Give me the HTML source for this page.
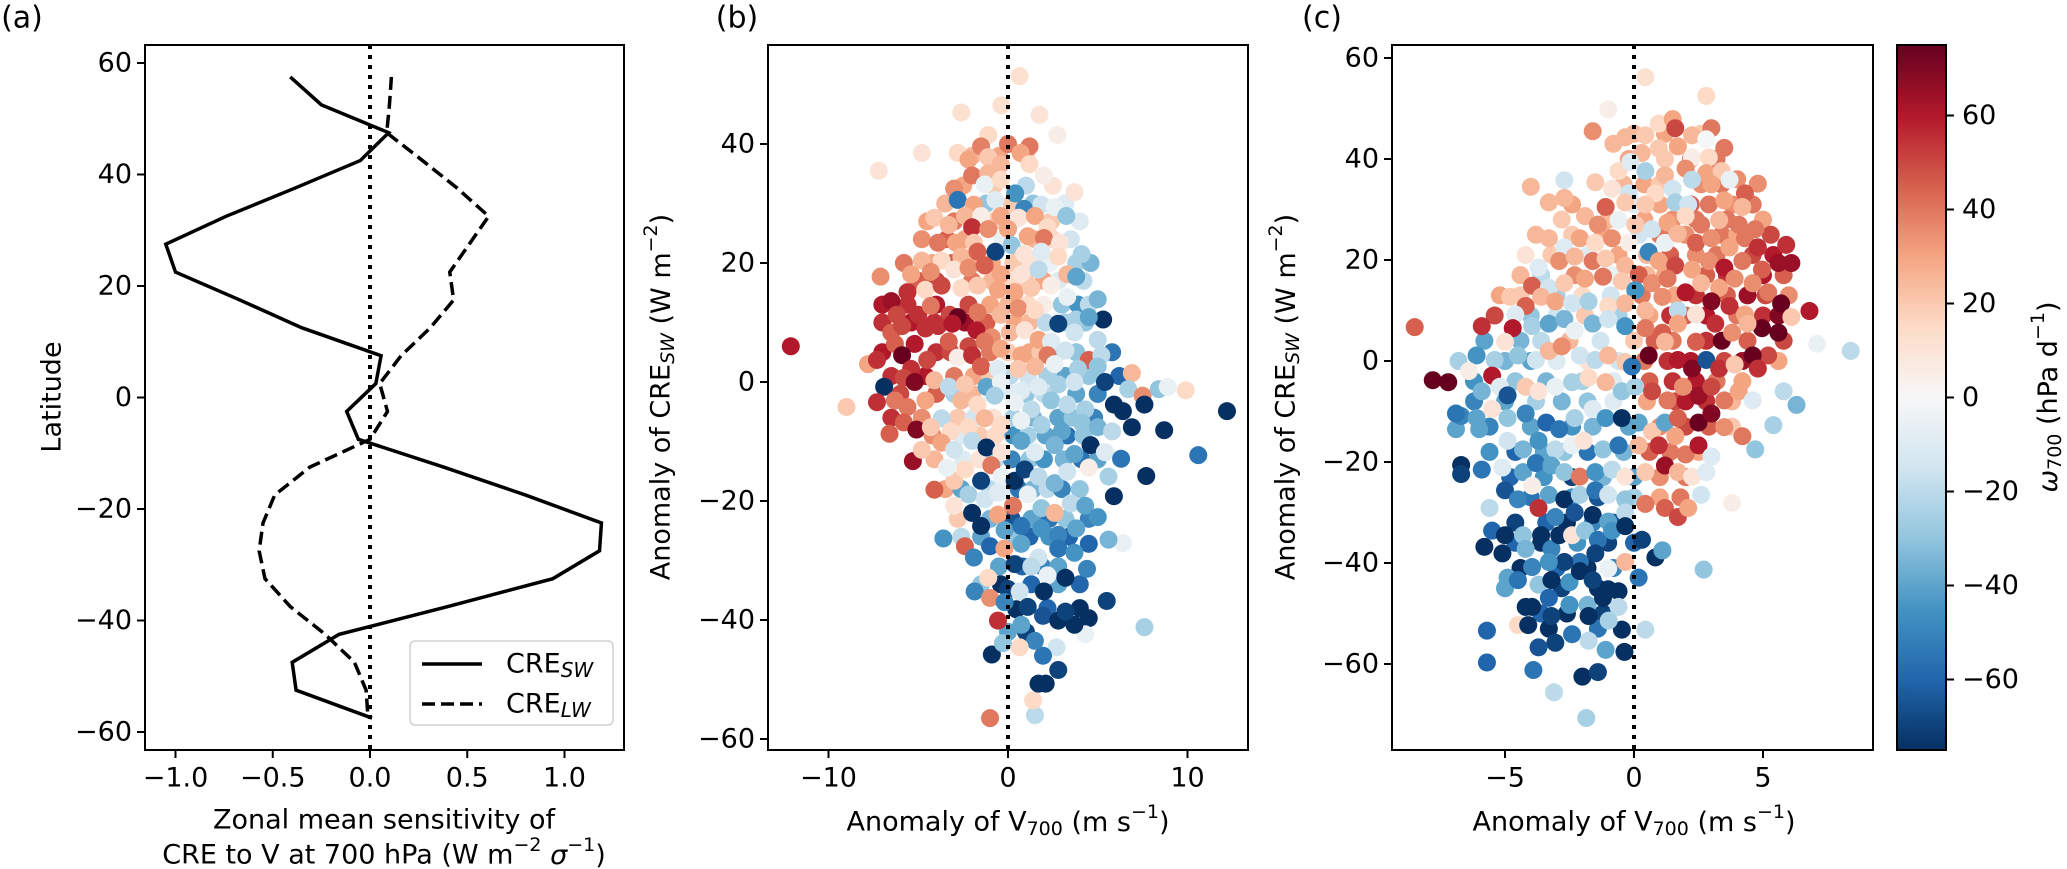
<!DOCTYPE html>
<html><head><meta charset="utf-8">
<style>
html,body{margin:0;padding:0;background:#fff;}
svg{display:block;font-family:"DejaVu Sans","Liberation Sans",sans-serif;}
</style></head>
<body>
<svg id="fig" width="2067" height="869" viewBox="0 0 2067 869" xmlns="http://www.w3.org/2000/svg">
<defs>
<clipPath id="clipA"><rect x="145" y="45" width="479" height="705"/></clipPath>
<clipPath id="clipB"><rect x="768" y="45" width="480" height="705"/></clipPath>
<clipPath id="clipC"><rect x="1392" y="45" width="481" height="705"/></clipPath>
<linearGradient id="cmapGrad" x1="0" y1="1" x2="0" y2="0">
<stop offset="0" stop-color="#053061"/><stop offset="0.1" stop-color="#2166ac"/><stop offset="0.2" stop-color="#4393c3"/><stop offset="0.3" stop-color="#92c5de"/><stop offset="0.4" stop-color="#d1e5f0"/><stop offset="0.5" stop-color="#f7f7f7"/><stop offset="0.6" stop-color="#fddbc7"/><stop offset="0.7" stop-color="#f4a582"/><stop offset="0.8" stop-color="#d6604d"/><stop offset="0.9" stop-color="#b2182b"/><stop offset="1" stop-color="#67001f"/>
</linearGradient>
</defs>
</svg>
<script>
// ---------- Panel (a) data ----------
const latA = [57.5,52.5,47.5,42.5,37.5,32.5,27.5,22.5,17.5,12.5,7.5,2.5,-2.5,-7.5,-12.5,-17.5,-22.5,-27.5,-32.5,-37.5,-42.5,-47.5,-52.5,-57.5];
const creSW = [-0.41,-0.25,0.096,-0.05,-0.39,-0.74,-1.05,-1.0,-0.67,-0.35,0.057,0.03,-0.12,-0.06,0.38,0.80,1.19,1.18,0.94,0.40,-0.16,-0.40,-0.38,0.01];
const creLW = [0.11,0.10,0.086,0.27,0.45,0.61,0.51,0.41,0.43,0.31,0.16,0.05,0.09,0.0,-0.31,-0.49,-0.55,-0.57,-0.54,-0.41,-0.23,-0.08,-0.02,-0.01];
const aXTicks = [-1.0,-0.5,0.0,0.5,1.0];
const aXTickLabels = ["−1.0","−0.5","0.0","0.5","1.0"];
const aYTicks = [-60,-40,-20,0,20,40,60];
const bXTicks = [-10,0,10];
const bYTicks = [-60,-40,-20,0,20,40];
const cXTicks = [-5,0,5];
const cYTicks = [-60,-40,-20,0,20,40,60];
const cbTicks = [-60,-40,-20,0,20,40,60];

// ---------- Panel (b) points [V700 anomaly, CRE_SW anomaly, omega700] ----------
const bPoints = [
[-12.1,6.0,60],[0.65,51.4,12],[-0.37,46.5,12],[-2.6,45.3,12],[1.76,44.9,10],[2.75,41.5,5],[-4.8,38.5,10],[-7.2,35.5,10],[3.7,31.9,10],[-7.1,17.7,35],[-6.5,13.6,65],[-9.0,-4.2,20],[12.2,-4.9,-75],[9.9,-1.4,15],[10.6,-12.3,-55],[8.7,-8.1,-75],[7.7,-15.8,-75],[7.6,-41.2,-25],[5.9,-19.2,-75],[6.4,-27.1,-5],
[-1.0,-56.5,40],[1.5,-56,-20],[1.4,-53.5,15],[1.7,-50.7,-75],[2.1,-50.7,-75],[2.8,-48.4,-70],[2.7,-44.6,-15],[-0.9,-45.8,-75],[1.95,-46,-55],[1.5,-43.5,-50],[0.65,-44.6,15],[-0.28,-43.9,-30],[5.5,-36.8,-70],[4.5,-39.7,-75],[4.3,-42.4,-5],[3.2,-32.9,-75],[4.4,-31.4,-50],[-1.86,-35.2,-50],[-1.0,-36.3,35],[-3.6,-26.3,-45],[-2.4,-27.6,45],[-1.9,-29.5,-50],
[-1.1,41.5,15],[0,40,40],[1.2,39.6,40],[-1.5,39.6,38],[-2.8,38.5,15],[-2.2,37.4,30],[-1.1,37.8,20],[-0.4,36.6,25],[0.7,38.5,30],[1.2,36.6,15],[2.0,34.7,5],[-2.0,34.7,40],[-1.1,35.1,25],[-3.0,32.5,35],[-1.3,33.2,-5],[-0.4,34,15],[0.4,31.7,-45],[-2.8,30.6,-55],[-1.9,29.8,30],[-0.7,30.6,-10],[0.9,29.1,-50],[1.86,29.8,-15],[2.6,29.4,-5],
[-4.1,27.6,20],[-2.4,27.9,25],[-1.5,27.9,5],[-0.4,27.9,30],[0.6,27.6,10],[1.5,27.9,30],[3.25,27.9,-30],[-3.3,26.4,25],[-2.0,26.0,55],[-1.1,25.7,35],[0,25.7,30],[2.2,26,15],[-3.9,23.4,40],[-2.9,23.4,30],[-1.9,23.4,20],[-0.7,21.9,-70],[0.2,23,-30],[1.1,24.5,30],[2.0,24.2,40],[2.9,23.4,10],[4.1,21.5,-25],
[-4.8,20.4,25],[-3.7,20.4,15],[-2.6,21.1,25],[-1.7,21.9,45],[0.9,21.5,10],[1.86,21.9,-10],[2.8,21.1,15],[-5.4,18.1,30],[-4.3,18.5,35],[-3.0,18.9,10],[-2.2,19.2,35],[-1.3,19.6,45],[-0.4,18.1,30],[0.74,18.1,10],[1.7,18.9,-20],[3.3,18.1,25],[3.8,17.7,-40],
[-5.6,15.1,55],[-4.6,15.5,15],[-3.7,16.2,50],[-2.6,15.8,15],[-1.7,16.2,20],[-0.56,15.5,30],[0.37,15.1,30],[1.3,15.8,20],[2.4,16.2,5],[3.3,14.3,-5],[5.0,13.9,-35],
[-6.2,11.3,50],[-5.0,11.3,55],[-4.3,12.8,40],[-3.25,11.3,50],[-2.8,10.9,75],[-1.7,11.7,40],[-0.4,11.3,25],[0.56,12.4,35],[1.5,12.1,15],[2.8,9.8,-70],[3.8,10.5,-25],[5.3,10.5,-75],[4.5,10.9,-40],
[-6.5,8.3,45],[-5.9,9.4,50],[-4.6,9.0,55],[-3.9,9.4,55],[-3.1,9.8,60],[-1.76,8.7,60],[-0.9,7.5,35],[0.1,8.3,25],[0.93,8.7,10],[1.7,7.1,30],[2.4,6.8,-10],[3.7,8.3,-15],[5.0,7.1,-20],
[-6.3,6.4,45],[-5.2,6.4,60],[-3.3,6.8,45],[-2.2,6.0,50],[-1.3,6.8,40],[-0.4,5.6,30],[0.74,4.5,30],[2.2,4.5,40],[3.2,5.3,-15],[4.5,3.7,45],[5.2,4.5,-20],
[-7.8,3.0,30],[-7.3,3.7,55],[-5.9,4.5,75],[-5.4,2.2,55],[-4.5,3.7,50],[-2.8,4.1,5],[-2.0,4.5,55],[-1.5,2.6,45],[-0.56,2.2,-10],[0.56,2.2,20],[1.5,2.6,25],[2.6,3.0,-5],[3.9,2.2,-25],[5.0,2.6,-30],[6.9,1.5,25],
[-6.9,-0.8,-75],[-5.8,0.7,50],[-5.2,0,70],[-4.1,0.3,25],[-3.3,-0.8,-20],[-2.4,-0.4,20],[-1.2,-0.8,-40],[-0.4,0,-5],[0.74,-1.5,-10],[1.7,-0.8,-10],[2.8,-0.4,-25],[3.7,0,-15],[5.4,0,-70],[6.7,-1.2,-25],[7.5,-2.3,35],[8.4,-1.2,-30],[8.9,-0.8,-5],
[-7.3,-3.4,55],[-6.3,-3.1,40],[-5.6,-4.2,40],[-4.6,-3.1,30],[-3.7,-6.1,-20],[-2.6,-3.1,25],[-1.7,-3.8,15],[-0.74,-2.3,-25],[0.37,-3.4,-5],[1.3,-4.6,-20],[2.4,-3.1,-30],[3.3,-3.8,-20],[4.3,-4.6,-25],[5.9,-3.8,-75],[6.4,-4.9,-75],[7.6,-3.8,-75],
[-5.8,-6.8,45],[-5.1,-8.0,70],[-4.3,-7.6,20],[-3.2,-8.3,15],[-2.2,-7.6,15],[-1.3,-6.1,25],[-0.37,-7.2,15],[0.74,-6.5,-5],[1.86,-7.2,-25],[3.0,-8.3,-40],[4.1,-6.8,-30],[5.0,-7.6,-35],[5.8,-8.3,-20],[6.9,-7.6,-75],
[-6.6,-8.7,45],[-5.3,-13.3,65],[-4.8,-11.4,20],[-3.7,-10.2,30],[-3.0,-11.4,-15],[-2.0,-9.9,-20],[-1.2,-11.0,-75],[-0.37,-11.8,10],[0.74,-9.9,-40],[1.5,-11.8,-10],[2.6,-10.6,-35],[3.7,-12.1,-40],[4.6,-10.6,-75],[5.4,-11.8,-10],[6.3,-12.9,-55],
[-4.1,-18.1,45],[-3.0,-16.6,20],[-3.4,-14.4,-5],[-2.4,-14.7,15],[-1.5,-16.6,-70],[-0.93,-14,40],[-0.37,-15.9,-5],[0.37,-16.6,-75],[0.93,-14.7,-70],[1.7,-15.9,-20],[2.6,-17,-35],[3.3,-15.1,-15],[4.5,-14.4,5],[5.6,-15.9,-25],
[-2.2,-18.9,-25],[-3.0,-20.8,10],[-2.0,-22,-75],[-1.3,-19.7,-15],[-0.56,-18.6,-10],[0.28,-20.8,40],[1.1,-18.9,-5],[1.86,-21.2,-30],[2.6,-22,25],[3.5,-20.4,-20],[4.3,-20.8,-40],[5.0,-22.7,-45],
[-1.5,-24.2,-75],[-0.56,-22.3,30],[-0.19,-24.9,-40],[0.74,-24.2,-55],[1.86,-24.6,-45],[2.8,-25.7,-50],[3.8,-24.6,-40],[4.5,-27.2,-60],[5.6,-26.5,-35],
[-1.0,-27.6,-60],[-0.2,-28,30],[0.74,-27.2,-40],[1.7,-29.5,-15],[2.8,-28,-55],[3.7,-28.7,-45],[0.37,-30.6,-70],[1.3,-31,-20],[2.2,-32.5,-5],[-1.1,-32.9,15],[0,-34.8,-70],[0.65,-35.2,-15],[2.0,-35.2,-75],
[-0.56,-40.1,55],[0.46,-38.2,-75],[1.1,-37.8,-70],[0.74,-40.8,-40],[1.95,-39.3,-65],[2.8,-40.1,-75],[3.7,-40.8,-75],[3.2,-38.6,-70],[-0.19,-37,-50]
];
// extra densely packed points for panel (b), by row: CRE value, V700 values, omega values
const bRowY = [38,33,30,27,24,20,17,13,10,5,1,-2,-6,-9,-13,-18,-23,-26,-31,-34,-38,-42];
const bRowX = [
[-2,-0.5,1.0],[-2.5,-0.8,1.0,2.5],[-3.5,-1.2,0.2,1.4,3.2],[-4.5,-3.0,-0.8,0.2,2.4,4.0],[-4.8,-3.4,-2.4,-0.3,1.5,2.5,3.5],
[-5.8,-4.2,-3.1,-2.1,-0.9,0.3,1.3,2.3,3.8,4.6],[-5.0,-4.0,-2.0,-0.9,0,1.0,2.0,2.8,4.2],[-7,-5.6,-4.0,-2.2,-1.0,0,1.1,2.0,3.0,3.9,4.5],
[-7.0,-5.4,-4.1,-2.4,-1.2,0.4,1.2,2.1,3.2,4.3],[-7.0,-4.0,-3.2,-1.0,0,1.2,1.8,2.8,3.8,5.8],[-6.5,-4.6,-3.0,-1.9,-1,0.1,1.1,2.2,3.2,4.5,6.2],
[-6.0,-4.0,-3.0,-2.0,-0.9,0.2,1.0,2.0,3.8,5.0],[-6.5,-4.8,-2.8,-1.9,-0.8,0.3,1.4,2.8,3.6,4.8],[-4.2,-2.6,-1.6,-0.7,0.3,1.1,2.1,3.3,4.2],
[-4.1,-2.5,-1.6,-0.7,0.2,1.2,2.0,3.1,4.1,5.0],[-3.5,-2.6,-1.0,-0.1,0.6,1.4,2.2,3.0,4.0],[-2.8,-1.0,0.2,1.3,2.3,3.2,4.5],
[-2.6,-1.5,0.3,1.2,2.3,3.4],[-0.5,0.8,1.9,2.8],[-1.5,-0.4,1.3,2.8,4.0],[2.2,4.0],[0,1.0]];
const bRowW = [
[25,30,20],[30,20,-20,10],[25,-30,20,-30,-10],[30,40,20,-20,20,-10],[35,45,30,-5,25,15,-15],
[40,30,45,25,30,20,10,-5,-25,-35],[45,50,40,25,15,20,30,-10,-20],[60,55,60,50,30,25,15,5,-30,-45,-20],
[55,60,55,65,45,30,25,-20,-25,-30],[60,55,50,40,20,30,20,-20,-30,-55],[55,60,40,30,20,-20,-15,-25,-40,-30,-60],
[50,45,-25,25,-5,-10,-30,-20,-40,-50],[55,35,20,-15,10,-25,-35,-40,-30,-50],[35,-10,20,15,-45,-25,-40,-55,-30],
[25,-10,10,-20,-50,-30,-45,-35,-55,-40],[30,-40,-20,-10,-55,-35,-20,-50,-30],[20,-35,-65,-40,-55,-30,-50],
[-20,-40,-30,-60,-45,-60],[-40,-60,-50,-40],[-30,-75,-60,-40,-60],[-60,-75],[-40,-70]];

// ---------- Panel (c) points [V700 anomaly, CRE_SW anomaly, omega700] ----------
const cPoints = [
[-8.5,6.7,45],[-7.8,-3.8,75],[-7.2,-4.2,75],[-5.9,6.9,55],[8.4,2.0,-20],[7.1,3.4,-5],[6.8,9.9,60],[0.44,56.2,12],[2.8,52.5,15],[-1.0,49.8,5],[-1.6,45.5,35],[-4.0,34.5,25],[-2.7,35.8,-15],[-3.3,31.4,25],[-2.7,32.3,25],[4.8,35.1,35],[4.0,36,35],[3.5,42.2,40],
[-3.1,-65.6,-20],[-1.85,-70.7,-25],[-5.7,-53.4,-60],[-5.7,-59.7,-60],[-3.9,-61.2,-55],[-2.0,-62.5,-75],[-1.4,-61.6,-70],[-0.37,-57.6,-75],[-0.47,-53.2,-75],[0.44,-53.2,-20],[2.7,-41.3,-30],[5.4,-12.7,-25],[4.7,-17.5,-30],[6.3,-8.7,-35],[5.8,-6.0,-20],[3.8,-28.1,5],
[-6.7,-20.6,-75],[-6.7,-22.4,-70],[-6.9,-13.5,-40],[-6.0,-13.5,-40],[-6.7,-10.9,-50],[-6.1,1.1,-45],[-5.6,-29.1,-20],[-5.9,-21.5,-55],[-6.4,-2.0,5],
[-0.34,44.3,25],[0.44,44.7,20],[0.96,47,15],[1.5,47.9,30],[1.6,46.1,50],[2.25,44.7,25],[3.0,46.1,40],[2.8,43.9,-1],[-0.8,43,25],[0.3,41.2,25],[0.96,42.1,20],[1.7,42.5,30],[2.25,40.3,5],[2.9,40.3,15],
[-0.6,37.6,15],[-0.14,39.4,-10],[0.44,37.6,-25],[1.2,36.8,25],[2.0,38.1,35],[2.8,37.2,30],[3.4,37.6,20],[3.7,35.9,-5],[-1.5,35.4,20],[-0.85,34.1,10],[-0.2,33.2,-15],[0.83,33.2,15],[1.5,34.1,-15],[2.25,35.9,-20],[3.0,35,30],[4.3,33.2,45],[-1.1,30.5,45],[-0.34,31.4,20],[0.44,31,20],[1.6,31.4,-25],[2.1,31,-15],[2.9,31,40],[3.5,31.8,30],[4.2,30.5,25],
[-1.9,28.7,25],[-1.4,27,35],[-0.6,27.9,-5],[0.05,27,20],[0.7,26.1,-15],[1.3,27.4,30],[2.0,28.7,15],[2.6,27,40],[3.3,27.9,25],[4.06,27,40],[4.7,26.1,40],
[-3.3,24.3,25],[-2.7,22.5,-10],[-2.1,24.3,30],[-1.5,23.4,15],[-0.85,24.3,35],[-0.2,23.4,5],[0.57,21.6,-50],[1.2,23.4,-5],[1.7,25.2,25],[2.4,23.4,45],[3.0,24.3,35],[3.7,22.5,30],[4.3,24.3,40],[4.8,22.5,55],[5.9,23,55],[5.6,19.4,65],[6.1,19.4,65],
[-3.7,18.5,-10],[-2.9,19.8,35],[-2.3,20.7,25],[-1.6,19.8,40],[-1.1,20.3,20],[-0.34,18.9,25],[0.18,17.1,45],[0.96,19.8,30],[1.6,18.9,50],[2.25,18.1,30],[2.9,19.8,35],[3.5,18.5,60],[4.2,19.8,40],[4.96,18.1,45],
[-3.95,14.9,45],[-3.3,14.5,-15],[-2.7,15.4,20],[-1.9,16.3,30],[-1.2,16.7,40],[-0.47,15.8,20],[0.05,14,-45],[0.7,15.4,35],[1.3,16.3,40],[2.0,13.6,60],[2.6,15.4,25],[3.3,14.5,30],[3.9,16.3,35],[4.6,15.4,35],[5.2,13.6,40],[5.7,11.4,75],
[-4.8,12.7,20],[-4.2,10.9,45],[-3.6,12.7,25],[-3.05,11.8,30],[-2.4,11.4,-15],[-1.76,11.8,-25],[-1.0,10.9,15],[-0.34,11.4,25],[0.44,10,25],[1.1,12.7,35],[1.7,10,-20],[2.4,9.2,10],[3.0,11.8,70],[3.7,10.9,55],[4.3,9.2,30],[4.96,6.5,75],[5.6,5.6,75],[6.1,8.7,20],
[-4.6,9.2,-10],[-4.7,6.5,60],[-3.95,6.9,-25],[-3.3,7.4,-40],[-2.7,8.3,-35],[-2.3,6.0,-5],[-1.6,7.4,-35],[-1.0,8.3,-15],[-0.34,6.9,-45],[0.44,6.5,40],[1.1,5.6,45],[1.7,7.4,30],[2.4,3.8,45],[3.15,7.4,55],[3.8,5.6,35],[4.4,7.4,25],[5.2,1.1,50],
[-5.4,0.2,-25],[-5.0,3.8,10],[-4.5,1.1,-30],[-3.8,0.2,-15],[-3.3,2.0,25],[-2.8,2.9,35],[-2.1,1.1,-15],[-1.5,0.2,-20],[-1.0,1.1,25],[-0.34,-0.2,20],[-0.08,-1.1,-55],[0.57,1.1,75],[1.2,3.8,25],[1.7,0.2,60],[2.25,-1.5,70],[2.8,0.2,-65],[3.3,-1.5,55],[3.9,-0.7,20],[4.6,1.1,75],[4.8,-1.5,55],
[-5.5,-2.9,60],[-5.9,-6.0,-35],[-5.2,-5.1,-10],[-4.9,-6.8,-65],[-4.2,-5.1,20],[-3.7,-6.0,10],[-3.05,-5.1,-5],[-2.4,-4.2,-25],[-1.76,-3.3,15],[-1.1,-4.2,25],[-0.47,-6.0,-30],[0.05,-5.1,-25],[0.7,-6.0,50],[1.3,-7.8,40],[1.9,-5.1,35],[2.5,-6.9,65],[3.0,-5.1,50],[3.5,-7.8,40],[4.06,-6.0,30],[4.6,-7.8,-10],
[-6.9,-10.4,-55],[-6.1,-11.3,-40],[-5.5,-9.5,10],[-4.9,-11.3,-30],[-4.2,-10.4,-50],[-3.4,-12.2,-60],[-2.9,-13.5,-55],[-2.3,-11.3,-25],[-1.6,-9.5,-10],[-1.1,-11.3,-45],[-0.47,-11.3,-75],[0.18,-12.2,-40],[0.7,-14,20],[1.2,-12.2,-40],[1.7,-11.3,45],[2.5,-12.2,75],[3.0,-10.4,70],[3.5,-13.1,35],[4.2,-14.9,40],
[-4.9,-15.8,-15],[-4.3,-17.5,-35],[-3.7,-15.8,-45],[-3.05,-17.5,-20],[-2.4,-16.7,-5],[-1.95,-15.8,10],[-1.2,-17.5,-30],[-0.6,-16.7,-55],[0.18,-16.7,25],[0.96,-16.7,55],[1.6,-14.9,30],[2.0,-18.5,40],[2.5,-16.7,60],[3.0,-18.9,-10],
[-5.1,-21.1,-10],[-4.3,-22,-40],[-3.8,-20.2,-55],[-3.2,-20.7,-40],[-2.7,-22,-30],[-2.1,-22.9,40],[-1.5,-22,-45],[-0.85,-21.5,-20],[-0.34,-22.9,10],[0.44,-22,20],[1.2,-20.7,65],[1.7,-22,25],[2.25,-22.9,10],[2.8,-22,-10],
[-5.0,-25.6,-65],[-4.5,-27.4,-50],[-3.95,-24.7,5],[-3.3,-26.5,-40],[-2.7,-27.4,-75],[-2.1,-26.5,-25],[-1.5,-25.6,-55],[-1.0,-26.5,-15],[-0.34,-27.4,-30],[0.44,-28.3,40],[1.2,-29.1,45],[1.7,-30.9,50],[2.1,-29.1,30],[2.6,-26.5,-15],
[-3.7,-29.1,55],[-3.05,-30.9,-50],[-2.3,-30,-65],[-1.6,-30.5,-75],[-1.0,-31.8,-40],[-0.34,-30,-20],
[-5.5,-33.6,-60],[-5.8,-36.8,-75],[-5.1,-38.1,-75],[-5.0,-34.5,-75],[-4.3,-34.5,-30],[-4.2,-37.2,-35],[-3.6,-34.5,-75],[-3.2,-37.2,-50],[-2.9,-34.5,-75],[-2.4,-34.5,10],[-1.9,-33.6,-30],[-1.4,-35.4,-55],[-0.85,-33.6,-45],[-0.34,-32.7,-75],[0.31,-35.4,-70],[0.83,-38.9,-75],[1.1,-37.5,-40],
[-0.34,-39.8,25],[-1.0,-41.1,-5],[-1.5,-38.1,-70],[-2.1,-39.8,-55],[-2.7,-39.8,-70],[-3.3,-39.8,-45],[-3.95,-40.8,-50],[-4.9,-42.9,-40],[-4.5,-43.4,-55],[-3.7,-44.3,-30],[-3.2,-43.4,-75],[-2.5,-43.8,-45],[-2.1,-41.6,-75],[-1.6,-43.4,-70],[-1.0,-45.2,-75],[-0.6,-45.6,-75],[0.18,-42.9,-55],
[-3.3,-46.9,-60],[-2.5,-48.3,-45],[-1.8,-48.3,-35],[-1.2,-46.9,-75],[-0.6,-48.7,-20],[-4.2,-48.7,-75],[-3.95,-48.7,-75],[-4.5,-52.3,15],[-4.1,-52.3,-75],[-3.2,-50.5,-70],[-1.76,-50.5,-75],[-0.98,-51.4,-25],[-2.4,-54.1,-55],[-1.76,-55.4,-20],[-3.05,-55.8,-70],[-3.7,-56.7,-65],[-1.1,-57.2,-40]
];
// extra densely packed points for panel (c), by row
const cRowY = [45,40,35,31,28,25,21,17,13,9,4,0,-4,-8,-13,-18,-23,-27,-32,-36,-41,-45,-50,-53];
const cRowX = [
[0,1.2,2.6],[-0.2,1.2,2.2,3.2],[-0.4,0.4,1.0,2.6,3.4],[-2.4,0,1.0,2.2,3.8,4.6],[-2.8,-1.0,0.4,1.5,2.4,3.6,5.0],
[-3.8,-2.4,-1.2,0.2,1.0,2.0,3.4,4.0,5.3],[-4.2,-3.2,-1.8,-0.6,0.5,1.4,2.4,3.2,4.6,5.4],[-4.4,-3.6,-2.3,-0.8,0.5,1.2,2.8,3.6,5.0,5.8],
[-5.2,-4.4,-3.0,-2.0,-0.9,0.3,1.6,2.4,3.6,4.4,5.1,6.0],[-5.4,-4.0,-3.0,-1.9,-0.6,0.6,1.4,2.0,2.8,4.0,5.0,5.6],
[-5.8,-4.4,-3.6,-2.5,-1.3,0,0.8,1.5,2.8,3.4,4.4,5.8],[-6.8,-5.0,-4.0,-3.0,-1.8,-0.6,0.4,1.3,2.2,3.5,4.2,5.6],
[-6.2,-4.6,-3.4,-2.0,-0.8,0.6,1.5,2.4,3.2,4.2],[-6.2,-5.0,-3.8,-2.8,-1.8,-0.8,0.5,1.6,2.0,2.8,3.8],
[-5.6,-4.0,-2.4,-1.6,-0.2,1.0,2.0,2.9,3.8],[-5.6,-4.6,-3.5,-2.7,-1.8,-0.4,0.6,1.4,2.5],[-4.8,-3.5,-2.4,-1.2,0,1.0,2.0],
[-4.0,-2.4,-1.4,0,1.0,1.8],[-4.6,-3.4,-2.6,-1.6,-0.8],[-4.6,-3.6,-2.2,-1.0,0.0],[-4.4,-3.0,-1.8,-0.8],[-5.0,-2.8,-1.4],[-3.6,-2.6,-1.2],[-3.3,-1.4]];
const cRowW = [
[25,30,20],[30,20,35,40],[25,30,20,35,40],[30,-10,30,45,35,40],[20,25,30,35,40,40,30],
[25,20,30,-15,40,35,40,30,50],[10,20,-10,30,25,45,35,40,50,60],[25,-20,35,-5,25,30,45,55,60,45],
[30,20,-25,15,-15,40,30,55,45,65,50,35],[50,-30,-15,20,-25,30,55,45,60,40,55,70],
[-40,-35,-20,25,-15,20,45,40,55,75,45,50],[-25,-35,-40,-10,10,-15,40,55,60,50,65,30],
[-45,-30,-35,-25,-10,45,55,60,40,30],[-50,-40,-25,-35,-30,-10,30,50,60,55,25],
[-50,-40,-45,-35,-40,35,50,45,20],[-45,-60,-40,-30,-55,-35,45,40,30],[-60,-45,-70,-35,-40,35,40],
[-55,-45,-65,-25,30,40],[-70,-60,-75,-50,-65],[-60,-75,-45,-70,-60],[-75,-60,-75,-50],[-40,-70,-75],[-60,-75,-70],[-75,-55]];

// ---------- scales ----------
const ax = v => 370 + v*194.5,  ay = v => 397.5 - v*5.575;
const bxS = v => 1008 + v*17.95, byS = v => 382 - v*5.95;
const cxS = v => 1634 + v*25.8,  cyS = v => 361 - v*5.05;
const cbY = v => 397.5 - v*(705/150);

const stops = ["#053061","#2166ac","#4393c3","#92c5de","#d1e5f0","#f7f7f7","#fddbc7","#f4a582","#d6604d","#b2182b","#67001f"];
function hex2rgb(h){return [parseInt(h.slice(1,3),16),parseInt(h.slice(3,5),16),parseInt(h.slice(5,7),16)];}
function cmap(w){
  let t = Math.max(0,Math.min(1,(w+75)/150))*10;
  let i = Math.min(9,Math.floor(t)), f = t-i;
  const a=hex2rgb(stops[i]), b=hex2rgb(stops[i+1]);
  return "rgb("+a.map((c,k)=>Math.round(c+(b[k]-c)*f)).join(",")+")";
}

const svg = document.getElementById('fig');
const NS = "http://www.w3.org/2000/svg";
function mk(tag, attrs, parent){
  const e = document.createElementNS(NS, tag);
  for (const k in attrs) e.setAttribute(k, attrs[k]);
  (parent||svg).appendChild(e);
  return e;
}
function txt(x,y,s,opts,parent){
  const e = mk('text',{x:x,y:y,'font-size':(opts&&opts.size)||27,'text-anchor':(opts&&opts.anchor)||'middle','dominant-baseline':'central',fill:'#000'},parent);
  if(opts&&opts.rot) e.setAttribute('transform','rotate(-90 '+x+' '+y+')');
  e.innerHTML = s;
  return e;
}

function panel(name, x0, y0, x1, y1, xt, xtl, xs, yt, ys){
  const g = mk('g',{});
  
  
  xt.forEach((v,i)=>{
    const X = xs(v);
    const t = mk('line',{x1:X,x2:X,y1:y1,y2:y1+8,stroke:'#000','stroke-width':2},g);
    
    
    const l = txt(X, y1+28, xtl[i], {}, g);
    
    
  });
  yt.forEach(v=>{
    const Y = ys(v);
    const t = mk('line',{x1:x0-8,x2:x0,y1:Y,y2:Y,stroke:'#000','stroke-width':2},g);
    
    
    const l = txt(x0-13, Y, (v<0?'−':'')+Math.abs(v), {anchor:'end'}, g);
    
    
  });
  return g;
}
function frame(name,x0,y0,x1,y1){
  const r = mk('rect',{x:x0,y:y0,width:x1-x0,height:y1-y0,fill:'none',stroke:'#000','stroke-width':2});
  
  
}

// Panel (a)
panel('panel-a',145,45,624,750,aXTicks,aXTickLabels,ax,aYTicks,ay);
const zeroA = mk('line',{x1:ax(0),x2:ax(0),y1:45,y2:750,stroke:'#000','stroke-width':4,'stroke-dasharray':'4 6'});


const swLine = mk('polyline',{points:latA.map((l,i)=>ax(creSW[i])+','+ay(l)).join(' '),fill:'none',stroke:'#000','stroke-width':3.5,'clip-path':'url(#clipA)'});


const lwLine = mk('polyline',{points:latA.map((l,i)=>ax(creLW[i])+','+ay(l)).join(' '),fill:'none',stroke:'#000','stroke-width':3.5,'stroke-dasharray':'13 6','clip-path':'url(#clipA)'});


frame('panel-a',145,45,624,750);
const lg = mk('g',{});


mk('rect',{x:410,y:641,width:203,height:84,rx:5,fill:'#fff','fill-opacity':0.85,stroke:'#d0d0d0','stroke-width':1.5},lg);
const le1 = mk('line',{x1:422,x2:482,y1:664,y2:664,stroke:'#000','stroke-width':3.5},lg);


const lt1 = txt(506,664,'CRE<tspan font-style="italic" font-size="20" dy="6">SW</tspan>',{anchor:'start'},lg);


const le2 = mk('line',{x1:422,x2:482,y1:704,y2:704,stroke:'#000','stroke-width':3.5,'stroke-dasharray':'13 6'},lg);


const lt2 = txt(506,704,'CRE<tspan font-style="italic" font-size="20" dy="6">LW</tspan>',{anchor:'start'},lg);



function dot(g, X, Y, w, name){
  const c = mk('circle',{cx:X,cy:Y,r:9,fill:cmap(w)},g);
  
  
}

// Panel (b)
panel('panel-b',768,45,1248,750,bXTicks,bXTicks.map(v=>(v<0?'−':'')+Math.abs(v)),bxS,bYTicks,byS);
const gb = mk('g',{'clip-path':'url(#clipB)'});


bRowY.forEach((yv,r)=>{ bRowX[r].forEach((xv,k)=>{ dot(gb, bxS(xv), byS(yv), bRowW[r][k], 'scatter-point-b'); }); });
bPoints.forEach(p=>{ dot(gb, bxS(p[0]), byS(p[1]), p[2], 'scatter-point-b'); });
const zeroB = mk('line',{x1:bxS(0),x2:bxS(0),y1:45,y2:750,stroke:'#000','stroke-width':4,'stroke-dasharray':'4 6'});


frame('panel-b',768,45,1248,750);

// Panel (c)
panel('panel-c',1392,45,1873,750,cXTicks,cXTicks.map(v=>(v<0?'−':'')+Math.abs(v)),cxS,cYTicks,cyS);
const gc = mk('g',{'clip-path':'url(#clipC)'});


cRowY.forEach((yv,r)=>{ cRowX[r].forEach((xv,k)=>{ dot(gc, cxS(xv), cyS(yv), cRowW[r][k], 'scatter-point-c'); }); });
cPoints.forEach(p=>{ dot(gc, cxS(p[0]), cyS(p[1]), p[2], 'scatter-point-c'); });
const zeroC = mk('line',{x1:cxS(0),x2:cxS(0),y1:45,y2:750,stroke:'#000','stroke-width':4,'stroke-dasharray':'4 6'});


frame('panel-c',1392,45,1873,750);

// Colorbar
const cb = mk('rect',{x:1897,y:45,width:49,height:705,fill:'url(#cmapGrad)',stroke:'#000','stroke-width':2});


cbTicks.forEach(v=>{
  const Y = cbY(v);
  const t = mk('line',{x1:1946,x2:1954,y1:Y,y2:Y,stroke:'#000','stroke-width':2});
  
  
  const l = txt(1962,Y,(v<0?'−':'')+Math.abs(v),{anchor:'start'});
  
  
});

const labels = [
  [22,18,'(a)',{size:30},'panel-a-letter'],
  [737,18,'(b)',{size:30},'panel-b-letter'],
  [1322,18,'(c)',{size:30},'panel-c-letter'],
  [52,397,'Latitude',{rot:true},'panel-a-y-axis-title'],
  [384,820,'Zonal mean sensitivity of',{},'panel-a-x-axis-title-line1'],
  [384,855,'CRE to V at 700 hPa (W m<tspan dy="-10" font-size="19">−2</tspan><tspan dy="10"> </tspan><tspan font-style="italic">σ</tspan><tspan dy="-10" font-size="19">−1</tspan><tspan dy="10">)</tspan>',{},'panel-a-x-axis-title-line2'],
  [1008,822,'Anomaly of V<tspan font-size="19" dy="7">700</tspan><tspan dy="-7"> (m s</tspan><tspan dy="-10" font-size="19">−1</tspan><tspan dy="10">)</tspan>',{},'panel-b-x-axis-title'],
  [1634,822,'Anomaly of V<tspan font-size="19" dy="7">700</tspan><tspan dy="-7"> (m s</tspan><tspan dy="-10" font-size="19">−1</tspan><tspan dy="10">)</tspan>',{},'panel-c-x-axis-title'],
  [661,397,'Anomaly of CRE<tspan font-size="19" font-style="italic" dy="7">SW</tspan><tspan dy="-7"> (W m</tspan><tspan dy="-10" font-size="19">−2</tspan><tspan dy="10">)</tspan>',{rot:true},'panel-b-y-axis-title'],
  [1286,397,'Anomaly of CRE<tspan font-size="19" font-style="italic" dy="7">SW</tspan><tspan dy="-7"> (W m</tspan><tspan dy="-10" font-size="19">−2</tspan><tspan dy="10">)</tspan>',{rot:true},'panel-c-y-axis-title'],
  [2048,397,'<tspan font-style="italic">ω</tspan><tspan font-size="19" dy="7">700</tspan><tspan dy="-7"> (hPa d</tspan><tspan dy="-10" font-size="19">−1</tspan><tspan dy="10">)</tspan>',{rot:true},'colorbar-title']
];
labels.forEach(L=>{
  const e = txt(L[0],L[1],L[2],L[3]);
  
  
});
</script>
</body></html>
